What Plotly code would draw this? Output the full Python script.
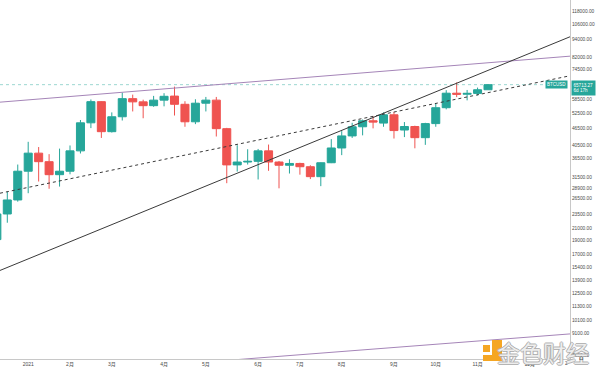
import math
import plotly.graph_objects as go

# ---------------- data ----------------
dates = [
    "2020-12-14", "2020-12-21", "2020-12-28", "2021-01-04", "2021-01-11", "2021-01-18",
    "2021-01-25", "2021-02-01", "2021-02-08", "2021-02-15", "2021-02-22", "2021-03-01",
    "2021-03-08", "2021-03-15", "2021-03-22", "2021-03-29", "2021-04-05", "2021-04-12",
    "2021-04-19", "2021-04-26", "2021-05-03", "2021-05-10", "2021-05-17", "2021-05-24",
    "2021-05-31", "2021-06-07", "2021-06-14", "2021-06-21", "2021-06-28", "2021-07-05",
    "2021-07-12", "2021-07-19", "2021-07-26", "2021-08-02", "2021-08-09", "2021-08-16",
    "2021-08-23", "2021-08-30", "2021-09-06", "2021-09-13", "2021-09-20", "2021-09-27",
    "2021-10-04", "2021-10-11", "2021-10-18", "2021-10-25", "2021-11-01", "2021-11-08",
]
opens = [
    19150, 23480, 26250, 33000, 38100, 35600,
    32100, 33000, 38800, 48500, 57400, 45200,
    50900, 58800, 57300, 55600, 58100, 60000,
    56200, 48900, 56700, 58100, 46300, 34700,
    35500, 35700, 38800, 35500, 34600, 35100,
    34200, 31600, 35300, 39700, 43700, 47000,
    49300, 48400, 51700, 45800, 47100, 43100,
    48200, 54700, 61400, 60900, 61300, 63100,
]
highs = [
    24100, 28000, 34800, 41700, 40000, 37800,
    39500, 40500, 49600, 58400, 57600, 52700,
    61700, 60700, 58300, 60100, 61400, 64700,
    57600, 58500, 59600, 59600, 46600, 40600,
    39300, 39400, 40800, 35800, 36300, 35300,
    34600, 35400, 42600, 45400, 48500, 49800,
    51100, 52700, 52900, 48800, 47400, 48500,
    56600, 62900, 66900, 63000, 64200, 65900,
]
lows = [
    19000, 21900, 25900, 27700, 30400, 28700,
    29200, 32200, 38000, 46500, 43000, 44900,
    49400, 53100, 50300, 55100, 55300, 51400,
    47000, 48000, 53100, 43500, 30000, 32900,
    34800, 30900, 33100, 28800, 32400, 32100,
    31000, 29300, 35200, 37500, 43000, 43900,
    46400, 47000, 42800, 43300, 39600, 40700,
    47000, 54000, 59500, 58000, 60300, 63050,
]
closes = [
    23480, 26250, 33000, 38100, 35600, 32100,
    33000, 38800, 48500, 57400, 45200, 50900,
    58800, 57300, 55600, 58100, 59900, 56200,
    48900, 56700, 58100, 46300, 34700, 35500,
    35700, 38800, 35500, 34600, 35100, 34200,
    31600, 35300, 39700, 43700, 47000, 49300,
    48800, 51700, 45600, 47100, 43100, 48200,
    54700, 61400, 60900, 61300, 63100, 65713.27,
]
last_price = 65713.27

month_tick_dates = ["2021-01-04", "2021-02-01", "2021-03-01", "2021-04-05", "2021-05-03",
                    "2021-06-07", "2021-07-05", "2021-08-02", "2021-09-06", "2021-10-04",
                    "2021-11-01", "2021-12-06"]
month_tick_text = ["2021", "2月", "3月", "4月", "5月", "6月", "7月", "8月", "9月", "10月", "11月", "12月"]

price_ticks = [118000, 106000, 94000, 82000, 74500, 58500, 52500, 46500, 40500, 36500,
               31500, 28900, 26500, 23500, 21000, 19000, 17000, 15400, 13900, 12500,
               11300, 10100, 9100, 7600]

# drawn trend lines (end points: date, price)
line_dates = ["2020-12-16 02:40", "2022-01-01 21:50"]
solid_line_prices = [14980, 96200]
dashed_line_prices = [27700, 70530]
purple_top_prices = [57170, 82440]
purple_bottom_prices = [6370, 9040]

x_range = ["2020-12-16 02:40", "2022-01-01 21:50"]
y_range = [7404, 128900]

UP = "#26a69a"
DOWN = "#ef5350"
PURPLE = "#a585b8"
FONT = "Liberation Sans, Noto Sans CJK SC, sans-serif"

fig = go.Figure()

fig.add_trace(go.Candlestick(
    x=dates, open=opens, high=highs, low=lows, close=closes,
    increasing=dict(line=dict(color=UP, width=1), fillcolor=UP),
    decreasing=dict(line=dict(color=DOWN, width=1), fillcolor=DOWN),
    showlegend=False, hoverinfo="skip",
))

# current price dotted line
fig.add_trace(go.Scatter(x=x_range, y=[last_price, last_price], mode="lines",
                         line=dict(color="rgba(38,166,154,0.45)", width=1, dash="dot"),
                         showlegend=False, hoverinfo="skip"))

fig.add_trace(go.Scatter(x=line_dates, y=purple_top_prices, mode="lines",
                         line=dict(color=PURPLE, width=1), showlegend=False, hoverinfo="skip"))
fig.add_trace(go.Scatter(x=line_dates, y=purple_bottom_prices, mode="lines",
                         line=dict(color=PURPLE, width=1), showlegend=False, hoverinfo="skip"))
fig.add_trace(go.Scatter(x=line_dates, y=dashed_line_prices, mode="lines",
                         line=dict(color="#3a3a3a", width=1, dash="3px,3px"),
                         showlegend=False, hoverinfo="skip"))
fig.add_trace(go.Scatter(x=line_dates, y=solid_line_prices, mode="lines",
                         line=dict(color="#3a3a3a", width=1), showlegend=False, hoverinfo="skip"))

fig.update_layout(
    width=600, height=369,
    margin=dict(l=0, r=30, t=0, b=10),
    paper_bgcolor="white", plot_bgcolor="white",
    boxgap=0.2, boxgroupgap=0.04,
    font=dict(family=FONT, size=5, color="#4a4a4a"),
    xaxis=dict(
        type="date", range=x_range, rangeslider=dict(visible=False),
        showgrid=False, zeroline=False, showline=True, linecolor="#c8c8c8", linewidth=1,
        tickmode="array", tickvals=month_tick_dates, ticktext=month_tick_text,
        ticks="", tickfont=dict(size=5, color="#4a4a4a", family=FONT),
        fixedrange=True,
    ),
    yaxis=dict(
        type="log", side="right",
        range=[math.log10(y_range[0]), math.log10(y_range[1])],
        showgrid=False, zeroline=False, showline=True, linecolor="#c8c8c8", linewidth=1,
        tickmode="array", tickvals=price_ticks,
        ticktext=[f"{v:.2f}" for v in price_ticks],
        ticks="", tickfont=dict(size=4.8, color="#4a4a4a", family=FONT),
        fixedrange=True,
    ),
)

# price labels
fig.add_annotation(xref="paper", yref="y", x=0.997, y=math.log10(last_price),
                   text="BTCUSD", showarrow=False, xanchor="right", yanchor="middle",
                   font=dict(size=4.5, color="white", family=FONT), bgcolor=UP, borderpad=1)
fig.add_annotation(xref="paper", yref="y", x=1.002, y=math.log10(last_price), yshift=-3,
                   text=f"{last_price:.2f}<br>6d 17h", showarrow=False, xanchor="left",
                   yanchor="middle", align="left",
                   font=dict(size=4.6, color="white", family=FONT), bgcolor=UP, borderpad=1.5)

# partially hidden next-year label at the axis edge
fig.add_annotation(xref="paper", yref="paper", x=570 / 570, y=(359 - 363) / 359, text="2",
                   showarrow=False, xanchor="right", yanchor="middle",
                   font=dict(size=5, color="#4a4a4a", family=FONT))

# watermark
fig.add_annotation(xref="paper", yref="paper", x=1.036, y=(359 - 352) / 359, text="金色财经",
                   showarrow=False, xanchor="right", yanchor="middle",
                   font=dict(size=23, color="rgba(250,250,250,0.85)",
                             family="Noto Sans CJK SC",
                             shadow="1px 0 0 #a8a8a8, -1px 0 0 #a8a8a8, 0 1px 0 #a8a8a8, 0 -1px 0 #a8a8a8"))
fig.add_shape(type="rect", xref="paper", yref="paper", x0=483/570, x1=490/570,
              y0=(359-352)/359, y1=(359-345)/359, fillcolor="#f5a623", line_width=0)
fig.add_shape(type="path", xref="paper", yref="paper",
              path=f"M {492/570} {(359-340)/359} L {502/570} {(359-340)/359} "
                   f"L {502/570} {(359-361)/359} L {483/570} {(359-361)/359} "
                   f"L {483/570} {(359-355)/359} L {492/570} {(359-355)/359} Z",
              fillcolor="#f5a623", line_width=0)
fig.add_annotation(xref="paper", yref="paper", x=585/570, y=(359 - 364) / 359, text="⌂",
                   showarrow=False, font=dict(size=7, color="#555555", family="DejaVu Sans"))

fig.write_html("out.html", config={"displayModeBar": False},
               post_script="document.body.style.margin='0';document.body.style.overflow='hidden';")
